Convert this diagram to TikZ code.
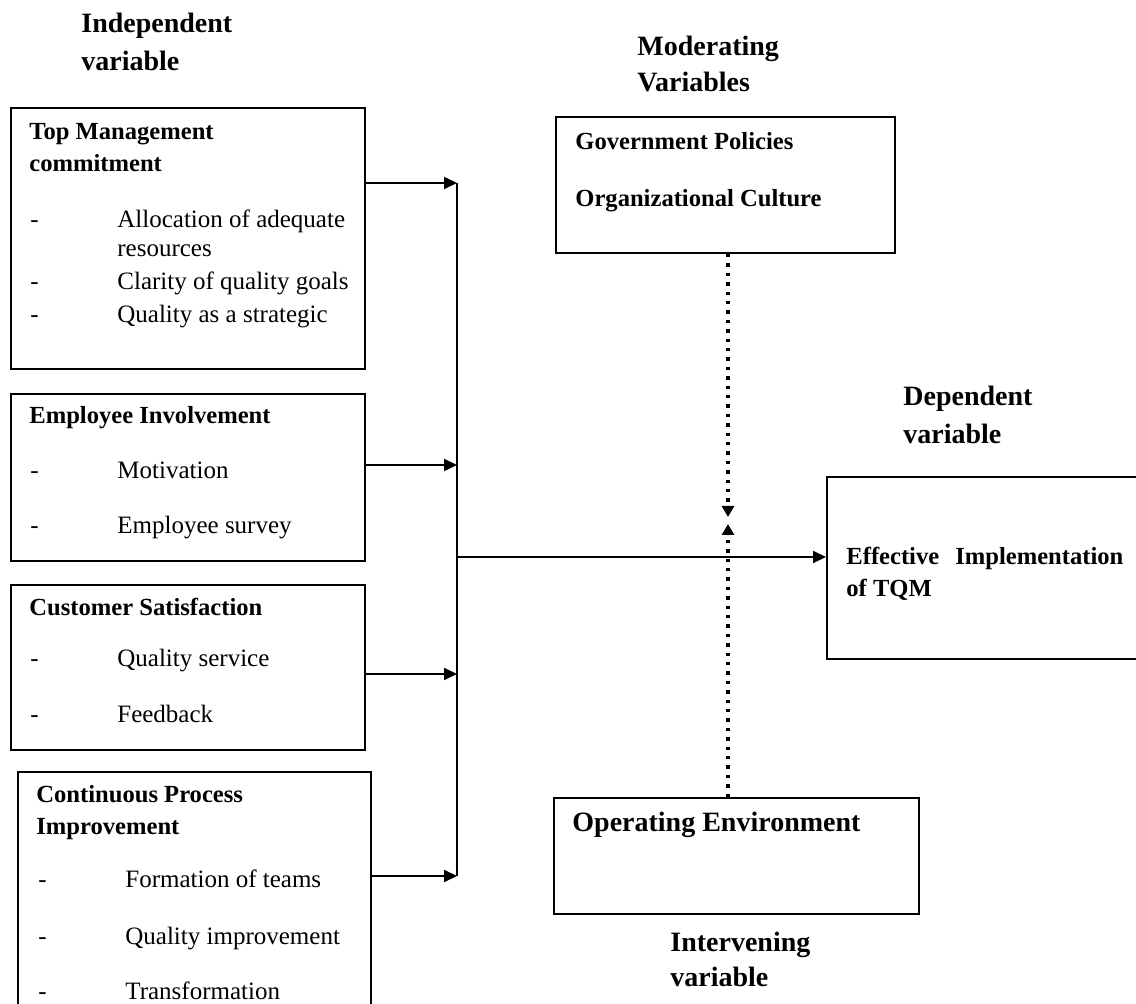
\documentclass[tikz,border=0pt]{standalone}
\usepackage{fontspec}
\setmainfont{Liberation Serif}
\usetikzlibrary{arrows.meta}
\newcommand{\itemdash}{\makebox[43.5pt][l]{-}}

\begin{document}
\begin{tikzpicture}[
    x=0.5pt, y=-0.5pt,
    box/.style={draw, line width=1pt, anchor=north west, inner sep=0pt},
    head/.style={font=\fontsize{14}{16}\selectfont\bfseries, anchor=base west, inner sep=0pt},
    ttl/.style={font=\fontsize{12.3}{14}\selectfont\bfseries, anchor=base west, inner sep=0pt},
    itm/.style={font=\fontsize{12.5}{14}\selectfont, anchor=base west, inner sep=0pt},
    flow/.style={-{Triangle[length=6.5pt, width=6pt]}, line width=1pt},
    modflow/.style={-{Triangle[length=5.5pt, width=6pt]}, line width=1.7pt, dash pattern=on 1.7pt off 3pt},
  ]
  \useasboundingbox (0,0) rectangle (1136,1004);
  % ---- group labels
  \node[head] (ind1) at (81,33) {Independent};
  \node[head] (ind2) at (81,71) {variable};
  \node[head] (mv1) at (637,56) {Moderating};
  \node[head] (mv2) at (637,92) {Variables};
  \node[head] (dv1) at (903,406) {Dependent};
  \node[head] (dv2) at (903,444) {variable};
  \node[head] (iv1) at (670,952) {Intervening};
  \node[head] (iv2) at (670,987) {variable};
  % ---- independent boxes
  \node[box, minimum width=177pt, minimum height=130.5pt] (tm) at (10,107) {};
  \node[ttl] (tm1) at (29,140) {Top Management};
  \node[ttl] (tm2) at (29,172) {commitment};
  \node[itm] (tm3) at (30,228) {\itemdash Allocation of adequate};
  \node[itm] (tm4) at (117,257) {resources};
  \node[itm] (tm5) at (30,290) {\itemdash Clarity of quality goals};
  \node[itm] (tm6) at (30,323) {\itemdash Quality as a strategic};

  \node[box, minimum width=177pt, minimum height=83.5pt] (ei) at (10,393) {};
  \node[ttl] (ei1) at (29,424) {Employee Involvement};
  \node[itm] (ei2) at (30,479) {\itemdash Motivation};
  \node[itm] (ei3) at (30,534) {\itemdash Employee survey};

  \node[box, minimum width=177pt, minimum height=82.5pt] (cs) at (10,584) {};
  \node[ttl] (cs1) at (29,616) {Customer Satisfaction};
  \node[itm] (cs2) at (30,667) {\itemdash Quality service};
  \node[itm] (cs3) at (30,723) {\itemdash Feedback};

  \node[box, minimum width=176.5pt, minimum height=125pt] (cpi) at (17,771) {};
  \node[ttl] (cpi1) at (36,803) {Continuous Process};
  \node[ttl] (cpi2) at (36,835) {Improvement};
  \node[itm] (cpi3) at (38,888) {\itemdash Formation of teams};
  \node[itm] (cpi4) at (38,945) {\itemdash Quality improvement};
  \node[itm] (cpi5) at (38,1000) {\itemdash Transformation};
  % ---- moderating, dependent, intervening
  \node[box, minimum width=169.5pt, minimum height=68pt] (gov) at (555,116) {};
  \node[ttl] (gov1) at (575,150) {Government Policies};
  \node[ttl] (gov2) at (575,207) {Organizational Culture};

  \node[box, minimum width=165pt, minimum height=91pt] (dep) at (826,476) {};
  \node[ttl] (dep1) at (846,565) {Effective\hspace{8pt}Implementation};
  \node[ttl] (dep2) at (846,597) {of TQM};

  \node[box, minimum width=182.5pt, minimum height=58pt] (op) at (553,797) {};
  \node[head] (op1) at (572,832) {Operating Environment};
  % ---- connectors
  \coordinate (j1) at (457,183);
  \coordinate (j2) at (457,465);
  \coordinate (jm) at (457,557);
  \coordinate (j3) at (457,674);
  \coordinate (j4) at (457,876);
  \draw[flow] (tm.east |- j1) -- (j1);
  \draw[flow] (ei.east |- j2) -- (j2);
  \draw[flow] (cs.east |- j3) -- (j3);
  \draw[flow] (cpi.east |- j4) -- (j4);
  \draw[line width=1pt] (j1) -- (j4);
  \draw[flow] (jm) -- (dep.west |- jm);
  \coordinate (dn) at (728,517);
  \coordinate (up) at (728,524);
  \draw[modflow] (gov.south -| dn) -- (dn);
  \draw[modflow] (op.north -| up) -- (up);
\end{tikzpicture}
\end{document}
